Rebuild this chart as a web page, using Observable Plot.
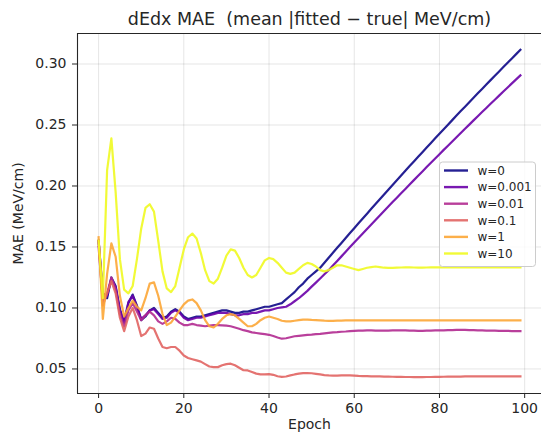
<!DOCTYPE html>
<html><head><meta charset="utf-8">
<script src="https://cdn.jsdelivr.net/npm/d3@7"></script>
<script src="https://cdn.jsdelivr.net/npm/@observablehq/plot@0.6"></script>
<style>
body{margin:0;background:#fff;font-family:"DejaVu Sans",sans-serif}
#chart svg{display:block}
</style>
</head><body><div id="chart"></div>
<script>
const titleText = "dEdx MAE  (mean |fitted \u2212 true| MeV/cm)";
const xLabel = "Epoch";
const yLabel = "MAE (MeV/cm)";
const seriesNames = ["w=0", "w=0.001", "w=0.01", "w=0.1", "w=1", "w=10"];
const seriesColors = ["#0d0887", "#6a00a8", "#b12a90", "#e16462", "#fca636", "#f0f921"];
const xTicks = [0, 20, 40, 60, 80, 100];
const yTicks = [0.05, 0.10, 0.15, 0.20, 0.25, 0.30];
const epochs = Array.from({length: 100}, (_, i) => i);

const w0 = [0.155,0.110,0.108,0.125,0.118,0.099,0.088,0.104,0.111,0.102,
0.090,0.093,0.098,0.100,0.096,0.092,0.093,0.097,0.099,0.097,
0.093,0.091,0.092,0.093,0.093,0.094,0.095,0.096,0.097,0.098,
0.098,0.097,0.096,0.096,0.097,0.097,0.098,0.099,0.100,0.101,
0.101,0.102,0.103,0.104,0.107,0.110,0.113,0.117,0.120,0.124,
0.127,0.130,0.133,0.1371,0.1412,0.1452,0.1493,0.1533,0.1574,0.1614,
0.1654,0.1694,0.1734,0.1773,0.1813,0.1852,0.1891,0.1931,0.1970,0.2009,
0.2047,0.2086,0.2125,0.2163,0.2201,0.2239,0.2277,0.2315,0.2353,0.2391,
0.2428,0.2465,0.2503,0.2540,0.2577,0.2614,0.2650,0.2687,0.2723,0.2760,
0.2796,0.2832,0.2868,0.2904,0.2939,0.2975,0.3011,0.3046,0.3081,0.3116];

const w0001 = [0.155,0.112,0.110,0.124,0.117,0.098,0.089,0.105,0.110,0.101,
0.091,0.094,0.098,0.099,0.095,0.091,0.092,0.096,0.098,0.096,
0.092,0.090,0.091,0.092,0.092,0.093,0.094,0.095,0.096,0.096,
0.096,0.095,0.094,0.094,0.095,0.095,0.096,0.096,0.097,0.098,
0.098,0.099,0.100,0.1005,0.101,0.103,0.1055,0.108,0.111,0.114,
0.1175,0.1208,0.1242,0.1276,0.131,0.1348,0.1386,0.1423,0.1461,0.1499,
0.1536,0.1573,0.1610,0.1648,0.1684,0.1721,0.1758,0.1795,0.1831,0.1868,
0.1904,0.1940,0.1976,0.2012,0.2048,0.2084,0.2119,0.2155,0.2190,0.2225,
0.2260,0.2296,0.2330,0.2365,0.2400,0.2435,0.2469,0.2503,0.2538,0.2572,
0.2606,0.2640,0.2674,0.2707,0.2741,0.2775,0.2808,0.2841,0.2874,0.2907];

const w001 = [0.150,0.106,0.112,0.125,0.115,0.095,0.085,0.098,0.104,0.097,
0.090,0.094,0.097,0.094,0.089,0.087,0.089,0.092,0.091,0.088,
0.086,0.086,0.087,0.086,0.0855,0.085,0.0855,0.086,0.086,0.0858,
0.0855,0.085,0.084,0.083,0.0818,0.081,0.080,0.0795,0.079,0.0785,
0.078,0.077,0.0758,0.0748,0.0752,0.076,0.0768,0.0772,0.0776,0.078,
0.0782,0.0785,0.0788,0.0792,0.0796,0.080,0.0802,0.0805,0.0807,0.081,
0.0812,0.0814,0.0815,0.0816,0.0816,0.0815,0.0814,0.0814,0.0815,0.0816,
0.0817,0.0817,0.0816,0.0815,0.0814,0.0813,0.0813,0.0814,0.0815,0.0816,
0.0816,0.0817,0.0818,0.0819,0.082,0.082,0.082,0.0819,0.0818,0.0817,
0.0816,0.0815,0.0814,0.0814,0.0813,0.0812,0.0812,0.0811,0.081,0.081];

const w01 = [0.155,0.102,0.112,0.122,0.112,0.092,0.081,0.093,0.100,0.090,
0.077,0.079,0.084,0.083,0.075,0.068,0.067,0.068,0.068,0.065,
0.061,0.059,0.058,0.057,0.056,0.054,0.052,0.0515,0.0515,0.053,
0.054,0.0543,0.053,0.051,0.049,0.0488,0.0475,0.0462,0.0455,0.0455,
0.0458,0.0452,0.044,0.0435,0.0438,0.0447,0.0455,0.0462,0.0466,0.0467,
0.0465,0.046,0.0455,0.045,0.0447,0.0445,0.0445,0.0447,0.0448,0.0447,
0.0445,0.0443,0.0442,0.0441,0.044,0.044,0.0439,0.0438,0.0437,0.0436,
0.0435,0.0435,0.0434,0.0434,0.0433,0.0433,0.0433,0.0434,0.0434,0.0435,
0.0435,0.0436,0.0437,0.0437,0.0438,0.0438,0.0439,0.0439,0.044,0.044,
0.044,0.044,0.044,0.0439,0.0439,0.044,0.044,0.044,0.044,0.044];

const w1 = [0.158,0.091,0.128,0.153,0.142,0.110,0.093,0.100,0.106,0.101,
0.098,0.108,0.120,0.121,0.110,0.095,0.086,0.088,0.093,0.098,
0.103,0.106,0.107,0.104,0.098,0.090,0.085,0.084,0.087,0.091,
0.094,0.095,0.094,0.091,0.088,0.085,0.085,0.087,0.090,0.092,
0.093,0.092,0.091,0.0895,0.089,0.089,0.0895,0.090,0.0905,0.0905,
0.0902,0.090,0.0898,0.0896,0.0895,0.0895,0.0896,0.0897,0.0898,0.0899,
0.0899,0.0898,0.0898,0.0899,0.0899,0.0898,0.0898,0.0898,0.0899,0.0899,
0.0898,0.0898,0.0899,0.0899,0.0898,0.0898,0.0898,0.0899,0.0899,0.0898,
0.0898,0.0899,0.0899,0.0898,0.0898,0.0898,0.0899,0.0899,0.0898,0.0898,
0.0899,0.0899,0.0898,0.0898,0.0898,0.0899,0.0899,0.0898,0.0898,0.0898];

const w10 = [0.155,0.108,0.213,0.239,0.195,0.140,0.115,0.112,0.118,0.140,
0.165,0.182,0.185,0.179,0.155,0.130,0.116,0.113,0.118,0.133,
0.148,0.158,0.161,0.157,0.145,0.131,0.122,0.120,0.124,0.133,
0.143,0.148,0.147,0.141,0.133,0.127,0.125,0.127,0.133,0.139,
0.141,0.140,0.137,0.133,0.129,0.128,0.129,0.132,0.135,0.137,
0.136,0.134,0.131,0.130,0.131,0.133,0.135,0.135,0.134,0.133,
0.132,0.131,0.132,0.133,0.1335,0.134,0.1335,0.133,0.1328,0.1328,
0.133,0.1332,0.1333,0.1333,0.1332,0.1331,0.1331,0.1332,0.1333,0.1333,
0.1333,0.1332,0.1332,0.1333,0.1333,0.1333,0.1332,0.1332,0.1333,0.1333,
0.1333,0.1332,0.1332,0.1333,0.1333,0.1333,0.1333,0.1332,0.1333,0.1333];

const seriesValues = [w0, w0001, w001, w01, w1, w10];

const rows = [];
seriesNames.forEach((name, si) => {
  seriesValues[si].forEach((v, i) => rows.push({epoch: epochs[i], value: v, series: name}));
});

// matplotlib-style 5% margins
const xMin = d3.min(epochs), xMax = d3.max(epochs);
const xPad = (xMax - xMin) * 0.05;
const xDomain = [xMin - xPad, xMax + xPad];
const yMin = d3.min(rows, d => d.value), yMax = d3.max(rows, d => d.value);
const yPad = (yMax - yMin) * 0.05;
const yDomain = [yMin - yPad, yMax + yPad];

const font = "DejaVu Sans";
const ink = "#262626";

const plot = Plot.plot({
  width: 541,
  height: 440,
  marginLeft: 77,
  marginRight: 0,
  marginTop: 33,
  marginBottom: 47,
  style: {fontFamily: font, background: "#fff", color: ink, overflow: "visible"},
  x: {domain: xDomain, label: null},
  y: {domain: yDomain, label: null},
  color: {domain: seriesNames, range: seriesColors},
  marks: [
    Plot.gridX(xTicks, {stroke: "#000", strokeOpacity: 0.1, strokeWidth: 1}),
    Plot.gridY(yTicks, {stroke: "#000", strokeOpacity: 0.1, strokeWidth: 1}),
    Plot.line(rows, {x: "epoch", y: "value", z: "series", stroke: "series",
      strokeWidth: 2.2, strokeOpacity: 0.9, curve: "linear", strokeLinejoin: "round", strokeLinecap: "square"}),
    Plot.ruleX([xDomain[0]], {stroke: ink, strokeWidth: 1.1}),
    Plot.ruleY(yDomain, {stroke: ink, strokeWidth: 1.1}),
    Plot.axisX(xTicks, {tickSize: 5, tickPadding: 5, fontSize: 14, label: null, stroke: ink}),
    Plot.axisY(yTicks, {tickSize: 5, tickPadding: 6, fontSize: 14, label: null, tickFormat: d3.format(".2f"), stroke: ink}),
    Plot.text([titleText], {frameAnchor: "top", dy: -9, lineAnchor: "bottom", fontSize: 17.5, fill: ink}),
    Plot.text([xLabel], {frameAnchor: "bottom", dy: 31, lineAnchor: "middle", fontSize: 14, fill: ink}),
    Plot.text([yLabel], {frameAnchor: "left", dx: -59, rotate: -90, lineAnchor: "middle", textAnchor: "middle", fontSize: 14, fill: ink})
  ]
});

// legend (matplotlib style, inside the axes at the right)
const color = plot.scale("color");
const svg = d3.select(plot);
const lg = svg.append("g").attr("font-family", font).attr("font-size", 12).attr("text-anchor", "start");
const lx = 439.5, ly = 162, rowH = 16.6;
lg.append("rect").attr("x", lx).attr("y", ly).attr("width", 96).attr("height", 104.5)
  .attr("rx", 3).attr("fill", "#fff").attr("fill-opacity", 0.8).attr("stroke", "#ccc").attr("stroke-width", 1);
seriesNames.forEach((name, i) => {
  const cy = ly + 8.5 + i * rowH;
  lg.append("line").attr("x1", lx + 4.5).attr("x2", lx + 28.5).attr("y1", cy).attr("y2", cy)
    .attr("stroke", color.apply(name)).attr("stroke-width", 2.4).attr("stroke-opacity", 0.9);
  lg.append("text").attr("x", lx + 38).attr("y", cy).attr("dy", "0.36em")
    .attr("text-anchor", "start").attr("fill", ink).text(name);
});

document.getElementById("chart").appendChild(plot);
</script>
</body></html>
